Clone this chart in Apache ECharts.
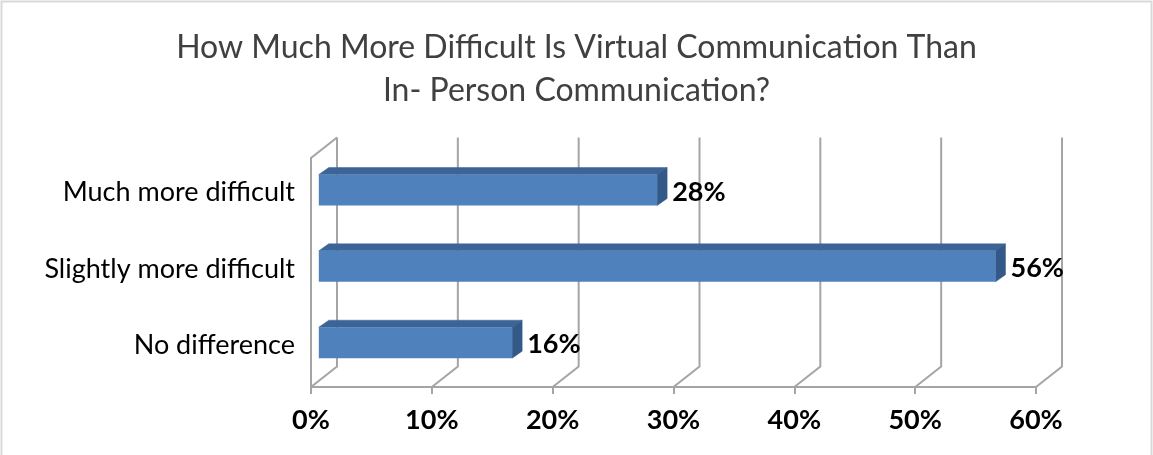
<!DOCTYPE html>
<html>
<head>
<meta charset="utf-8">
<script src="https://cdn.jsdelivr.net/npm/echarts@6/dist/echarts.min.js"></script>
<style>
  html, body { margin: 0; padding: 0; background: #ffffff; }
  #chart { width: 1153px; height: 455px; }
</style>
</head>
<body>
<div id="chart"></div>
<script>
// Survey answers and their shares (percent)
const categories = ['Much more difficult', 'Slightly more difficult', 'No difference'];
const values = [28, 56, 16];
// Percent gridline positions along the value axis
const tickValues = [0, 10, 20, 30, 40, 50, 60];

// Pseudo-3D projection: how far the back wall sits from the front plane
const WALL_DX = 26;
const WALL_DY = 20.5;
// Bars sit between 30% and 70% of the wall depth
const BAR_Z = 0.3;
const BAR_DX = 10;
const BAR_DY = 7;
const BAR_RATIO = 0.406;

const GRID_COLOR = '#a5a5a5';
const FONT = 'Lato, "Open Sans", sans-serif';

const chart = echarts.init(document.getElementById('chart'), null, { renderer: 'canvas' });

function renderWalls(params, api) {
  const v = api.value(0);
  const cs = params.coordSys;
  const floorY = cs.y + cs.height;
  const topY = cs.y;
  const x = api.coord([v, 0])[0];
  const style = { stroke: GRID_COLOR, lineWidth: 2, fill: null };
  const children = [{
    type: 'polyline',
    shape: { points: [[x, floorY], [x + WALL_DX, floorY - WALL_DY], [x + WALL_DX, topY - WALL_DY]] },
    style: style
  }];
  if (v === 0) {
    // left side wall edge
    children.push({
      type: 'polyline',
      shape: { points: [[x, floorY], [x, topY], [x + WALL_DX, topY - WALL_DY]] },
      style: style
    });
  }
  return { type: 'group', children: children };
}

function renderBar(params, api) {
  const v = api.value(0);
  const idx = api.value(1);
  const start = api.coord([0, idx]);
  const end = api.coord([v, idx]);
  const band = api.size([0, 1])[1];
  const h = band * BAR_RATIO;
  const ox = BAR_Z * WALL_DX, oy = BAR_Z * WALL_DY;
  const x0 = start[0] + ox, x1 = end[0] + ox;
  const yc = start[1] - oy;
  const y0 = yc - h / 2, y1 = yc + h / 2;
  return {
    type: 'group',
    children: [
      {
        type: 'polygon',
        shape: { points: [[x0, y0], [x1, y0], [x1 + BAR_DX, y0 - BAR_DY], [x0 + BAR_DX, y0 - BAR_DY]] },
        style: { fill: '#3d6496', stroke: '#3d6496', lineWidth: 0.5 }
      },
      {
        type: 'polygon',
        shape: { points: [[x1, y0], [x1 + BAR_DX, y0 - BAR_DY], [x1 + BAR_DX, y1 - BAR_DY], [x1, y1]] },
        style: { fill: '#335988', stroke: '#335988', lineWidth: 0.5 }
      },
      {
        type: 'rect',
        shape: { x: x0, y: y0, width: x1 - x0, height: h },
        style: { fill: '#4f81bd' }
      },
      {
        type: 'text',
        x: x1 + BAR_DX + 5,
        y: yc + 2,
        style: {
          text: v + '%',
          fill: '#000000',
          font: 'bold 27px ' + FONT,
          textAlign: 'left',
          textVerticalAlign: 'middle'
        }
      }
    ]
  };
}

const option = {
  backgroundColor: '#ffffff',
  animation: false,
  title: {
    // split into rich segments so "ti" is drawn as two separate letters
    text: '{t|How Much More Difficult Is Virtual Communica}{t|tion Than}\n{t|In- Person Communica}{t|tion?}',
    left: 'center',
    top: 21,
    textStyle: {
      fontFamily: FONT,
      fontSize: 32,
      fontWeight: 'normal',
      color: '#404040',
      lineHeight: 43,
      rich: {
        t: {
          fontFamily: FONT,
          fontSize: 32,
          fontWeight: 'normal',
          color: '#404040',
          lineHeight: 43
        }
      }
    }
  },
  graphic: [{
    type: 'rect',
    shape: { x: 1.5, y: 1.5, width: 1150, height: 470 },
    style: { fill: null, stroke: '#d9d9d9', lineWidth: 2 },
    silent: true
  }],
  grid: { left: 311, right: 117, top: 158, bottom: 68, containLabel: false },
  xAxis: {
    type: 'value',
    min: 0,
    max: 60,
    interval: 10,
    axisLine: { show: true, lineStyle: { color: GRID_COLOR, width: 2 } },
    axisTick: { show: true, length: 7, lineStyle: { color: GRID_COLOR, width: 2 } },
    splitLine: { show: false },
    axisLabel: {
      formatter: '{value}%',
      fontFamily: FONT,
      fontSize: 27,
      fontWeight: 'bold',
      color: '#000000',
      margin: 20
    }
  },
  yAxis: {
    type: 'category',
    data: categories,
    inverse: true,
    axisLine: { show: false },
    axisTick: { show: false },
    splitLine: { show: false },
    axisLabel: {
      margin: 16,
      // labels line up with the bars, which sit slightly back from the front plane
      formatter: function (value) { return '{c|' + value + '}'; },
      rich: {
        c: {
          fontFamily: FONT,
          fontSize: 27,
          color: '#000000',
          padding: [0, 0, 7, 0]
        }
      }
    }
  },
  series: [
    {
      type: 'custom',
      renderItem: renderWalls,
      data: tickValues.map(v => [v]),
      encode: { x: 0 },
      silent: true,
      z: 1
    },
    {
      type: 'custom',
      renderItem: renderBar,
      data: values.map((v, i) => [v, i]),
      encode: { x: 0, y: 1 },
      z: 2
    }
  ]
};

chart.setOption(option);
</script>
</body>
</html>
